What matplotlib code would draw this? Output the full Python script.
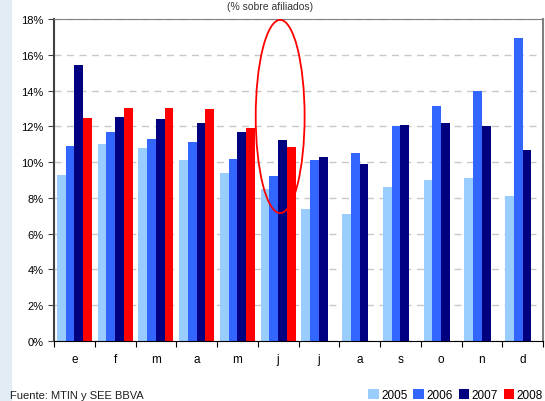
import numpy as np
import matplotlib
matplotlib.use('Agg')
import matplotlib.pyplot as plt
from matplotlib.patches import Ellipse, Patch
from matplotlib.ticker import PercentFormatter

plt.rcParams['font.family'] = ['Liberation Sans', 'DejaVu Sans']

# months (Spanish initials)
months = ['e', 'f', 'm', 'a', 'm', 'j', 'j', 'a', 's', 'o', 'n', 'd']
years = ['2005', '2006', '2007', '2008']
colors = ['#99ccff', '#3366ff', '#000080', '#ff0000']

v2005 = [9.3, 11.0, 10.8, 10.1, 9.4, 8.5, 7.4, 7.1, 8.6, 9.0, 9.1, 8.1]
v2006 = [10.9, 11.7, 11.3, 11.15, 10.2, 9.2, 10.1, 10.5, 12.0, 13.15, 13.95, 16.95]
v2007 = [15.45, 12.5, 12.4, 12.2, 11.7, 11.25, 10.3, 9.9, 12.05, 12.2, 12.0, 10.65]
v2008 = [12.45, 13.0, 13.05, 12.95, 11.9, 10.85]
series = [v2005, v2006, v2007, v2008]

fig = plt.figure(figsize=(5.45, 4.02), dpi=100)
fig.patch.set_facecolor('white')
# light blue strip on the left edge
fig.add_artist(plt.Rectangle((0, 0), 11 / 545, 1, transform=fig.transFigure,
                             color='#e1ecf4', zorder=0))

ax = fig.add_axes([54 / 545, 60 / 402, 489 / 545, 322 / 402])

w = 0.215
x = np.arange(len(months))
for k, vals in enumerate(series):
    xs = x[:len(vals)] + (k - 1.5) * w
    ax.bar(xs, vals, width=w, color=colors[k], zorder=2, linewidth=0)

ax.set_xlim(-0.5, 11.5)
ax.set_ylim(0, 18)
ax.set_yticks(np.arange(0, 19, 2))
ax.yaxis.set_major_formatter(PercentFormatter(decimals=0))
ax.yaxis.grid(True, color='#c8c8c8', linestyle=(0, (5, 4)), linewidth=1, zorder=1)

# category labels between boundary ticks
ax.set_xticks(np.arange(-0.5, 12, 1))
ax.set_xticklabels([])
ax.set_xticks(x, minor=True)
ax.set_xticklabels(months, minor=True)
ax.tick_params(axis='x', which='minor', length=0, pad=9, labelsize=8.5)
ax.tick_params(axis='x', which='major', length=4, direction='out', color='black')
ax.tick_params(axis='y', length=4, direction='out', labelsize=8, colors='#404040')
ax.tick_params(axis='y', labelcolor='black')

ax.spines['left'].set_color('#404040')
ax.spines['left'].set_linewidth(1.5)
ax.spines['bottom'].set_color('black')
ax.spines['top'].set_color('#808080')
ax.spines['right'].set_color('#808080')
ax.spines['right'].set_linewidth(1.5)

# red highlight ellipse around June
ax.add_patch(Ellipse((5.05, 12.55), 1.2, 10.8, fill=False, edgecolor='red',
                     linewidth=1.3, zorder=5, clip_on=False))

# subtitle at top edge
fig.text(0.495, 1 - 2 / 402, '(% sobre afiliados)', ha='center', va='top',
         fontsize=7.5, color='#333333')

fig.text(10 / 545, 6 / 402, 'Fuente: MTIN y SEE BBVA', ha='left', va='center',
         fontsize=8, color='#202020')

handles = [Patch(facecolor=c, label=y) for c, y in zip(colors, years)]
fig.legend(handles=handles, loc='center right', ncol=4, frameon=False,
           bbox_to_anchor=(543 / 545, 6 / 402), fontsize=8.5,
           handlelength=0.9, handleheight=0.9, handletextpad=0.2,
           columnspacing=0.5, borderaxespad=0, borderpad=0)

fig.savefig('out.png', dpi=100)
